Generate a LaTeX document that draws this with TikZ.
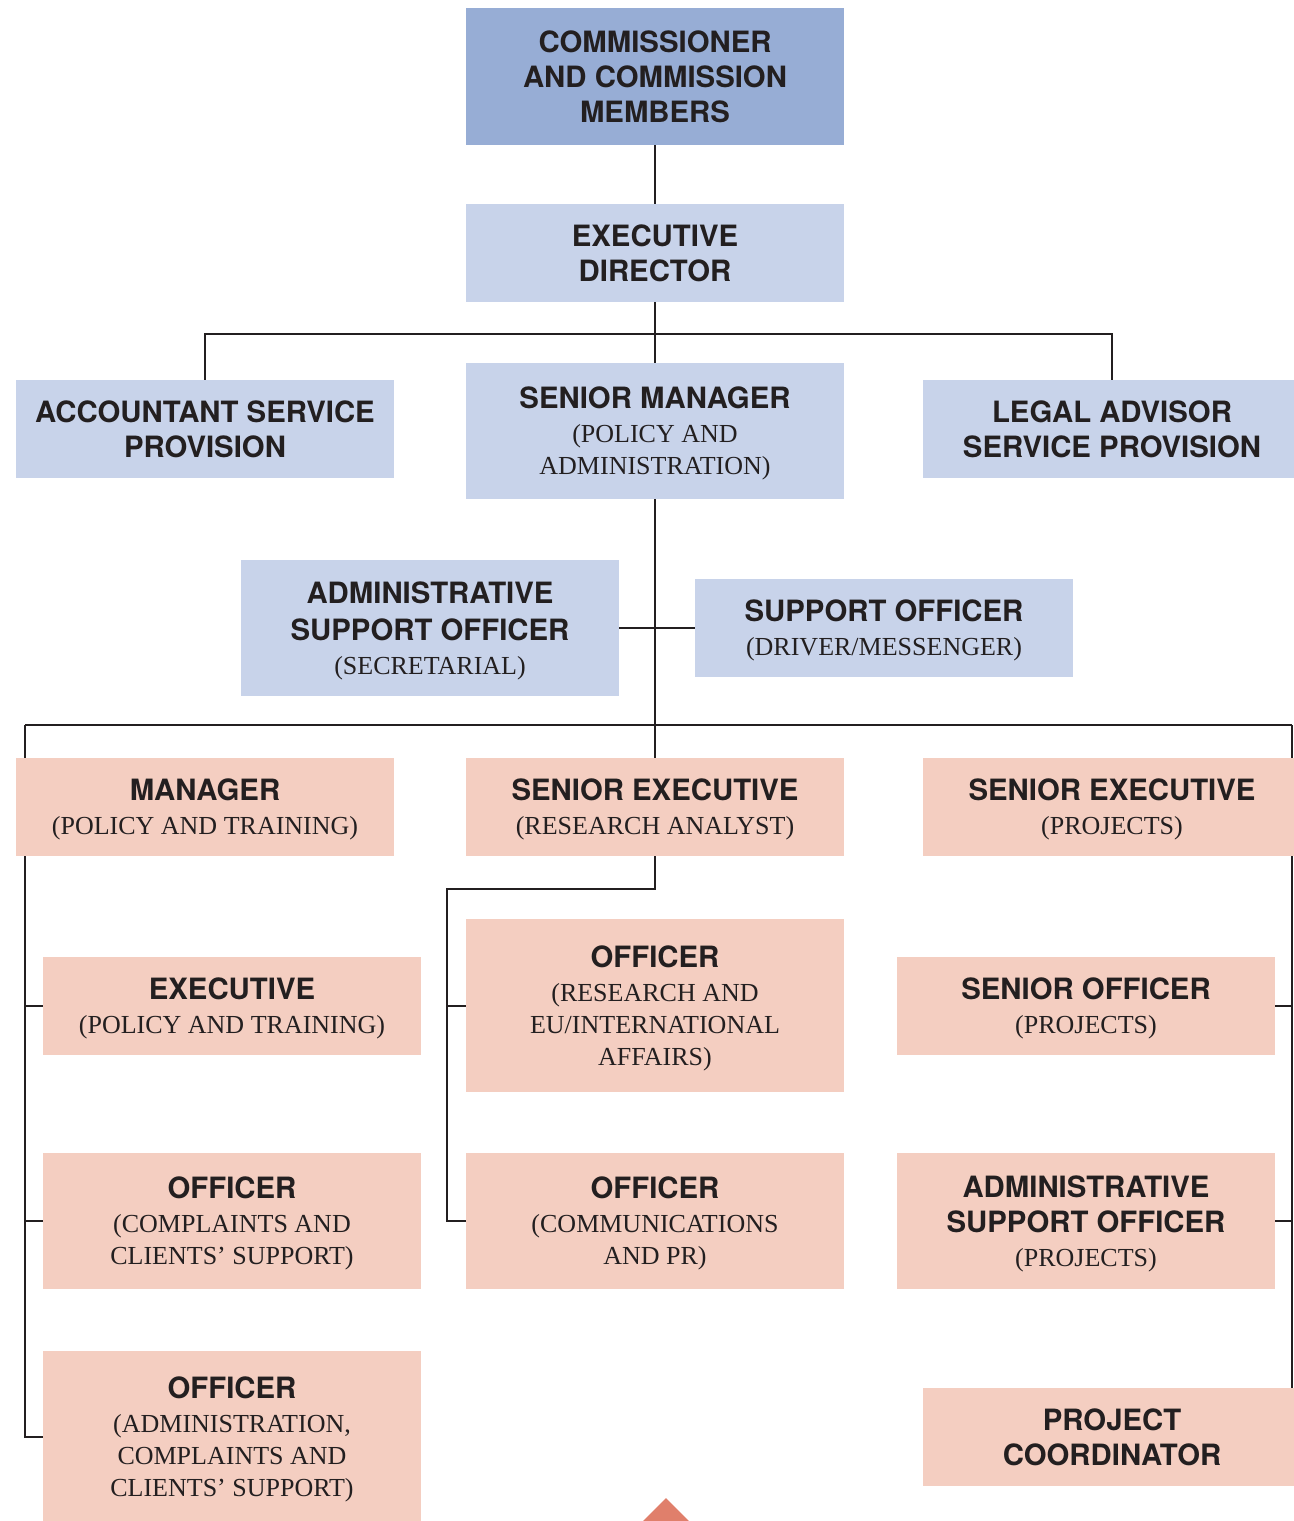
\documentclass[tikz,border=0pt]{standalone}
\usepackage{fontspec}
\setmainfont{Liberation Serif}
\setsansfont{TeX Gyre Heros}
\usetikzlibrary{positioning}
\definecolor{commBlue}{HTML}{97ADD5}
\definecolor{paleBlue}{HTML}{C8D3EA}
\definecolor{palePink}{HTML}{F4CEC1}
\definecolor{lineDark}{HTML}{231F20}
\definecolor{markerRed}{HTML}{E07F6B}
\newcommand{\rolehead}[1]{{\fontsize{16.7}{19}\selectfont\sffamily\bfseries #1}}
\pgfdeclarelayer{back}
\pgfsetlayers{back,main}

\begin{document}
\begin{tikzpicture}[
    x=0.02cm, y=-0.02cm,
    box/.style={inner sep=0pt, minimum width=7.56cm, minimum height=1.96cm,
                align=center, text=lineDark, text depth=0pt,
                font=\fontsize{14.8}{18.3}\selectfont},
    tall/.style={minimum height=2.72cm},
    taller/.style={minimum height=3.46cm},
    topbox/.style={box, fill=commBlue},
    bluebox/.style={box, fill=paleBlue},
    pinkbox/.style={box, fill=palePink},
    link/.style={draw=lineDark, line width=1.15pt}
  ]
    \useasboundingbox (0,0) rectangle (1294,1521);

    % governing levels
    \node[topbox, minimum height=2.74cm] (comm) at (655,76.5) {
      \rolehead{COMMISSIONER}\\[1.5pt] \rolehead{AND COMMISSION}\\[1.5pt] \rolehead{MEMBERS}};
    \node[bluebox] (exec) at (655,253) {\rolehead{EXECUTIVE}\\[1.5pt] \rolehead{DIRECTOR}};
    \node[bluebox] (acct) at (205,429) {\rolehead{ACCOUNTANT SERVICE}\\[1.5pt] \rolehead{PROVISION}};
    \node[bluebox, tall] (senmgr) at (655,431) {
      \rolehead{SENIOR MANAGER}\\[1pt] (POLICY AND\\ ADMINISTRATION)};
    \node[bluebox] (legal) at (1112,429) {\rolehead{LEGAL ADVISOR}\\[1.5pt] \rolehead{SERVICE PROVISION}};
    \node[bluebox, tall] (adminsec) at (430,628) {
      \rolehead{ADMINISTRATIVE}\\[2.5pt] \rolehead{SUPPORT OFFICER}\\[1pt] (SECRETARIAL)};
    \node[bluebox] (driver) at (884,628) {\rolehead{SUPPORT OFFICER}\\[1pt] (DRIVER/MESSENGER)};

    % units
    \node[pinkbox] (manager) at (205,807) {\rolehead{MANAGER}\\[1pt] (POLICY AND TRAINING)};
    \node[pinkbox] (senexres) at (655,807) {\rolehead{SENIOR EXECUTIVE}\\[1pt] (RESEARCH ANALYST)};
    \node[pinkbox] (senexproj) at (1112,807) {\rolehead{SENIOR EXECUTIVE}\\[1pt] (PROJECTS)};

    \node[pinkbox] (execpol) at (232,1006) {\rolehead{EXECUTIVE}\\[1pt] (POLICY AND TRAINING)};
    \node[pinkbox, taller] (offres) at (655,1005.5) {
      \rolehead{OFFICER}\\[1pt] (RESEARCH AND\\ EU/INTERNATIONAL\\ AFFAIRS)};
    \node[pinkbox] (senoff) at (1086,1006) {\rolehead{SENIOR OFFICER}\\[1pt] (PROJECTS)};

    \node[pinkbox, tall] (offcompl) at (232,1221) {
      \rolehead{OFFICER}\\[1pt] (COMPLAINTS AND\\ CLIENTS’ SUPPORT)};
    \node[pinkbox, tall] (offcomm) at (655,1221) {
      \rolehead{OFFICER}\\[1pt] (COMMUNICATIONS\\ AND PR)};
    \node[pinkbox, tall] (adminproj) at (1086,1221) {
      \rolehead{ADMINISTRATIVE}\\[1.5pt] \rolehead{SUPPORT OFFICER}\\[1pt] (PROJECTS)};

    \node[pinkbox, taller] (offadmin) at (232,1437) {
      \rolehead{OFFICER}\\[1pt] (ADMINISTRATION,\\ COMPLAINTS AND\\ CLIENTS’ SUPPORT)};
    \node[pinkbox] (projcoord) at (1112,1437) {\rolehead{PROJECT}\\[1.5pt] \rolehead{COORDINATOR}};

    \fill[markerRed] (643,1521) -- (666,1498) -- (689,1521) -- cycle;

    % connectors behind the boxes
    \coordinate (topbus) at (655,334);
    \coordinate (lt) at (25,725);
    \coordinate (rt) at (1292,725);
    \coordinate (mid) at (447,889);
    \begin{pgfonlayer}{back}
      \draw[link] (comm.south) -- (exec.north);
      \draw[link] (exec.south) -- (senmgr.north);
      \draw[link] (acct.north) |- (topbus) -| (legal.north);
      \draw[link] (senmgr.south) -- (senexres.north);
      \draw[link] (adminsec.east) -- (driver.west);
      \draw[link] (lt) -- (rt);
      \draw[link] (lt) |- (offadmin.west);
      \draw[link] (execpol.west) -- (execpol.west -| lt);
      \draw[link] (offcompl.west) -- (offcompl.west -| lt);
      \draw[link] (rt) -- (rt |- projcoord.north);
      \draw[link] (senoff.east) -- (senoff.east -| rt);
      \draw[link] (adminproj.east) -- (adminproj.east -| rt);
      \draw[link] (senexres.south) |- (mid) |- (offcomm.west);
      \draw[link] (offres.west) -- (offres.west -| mid);
    \end{pgfonlayer}
  \end{tikzpicture}
\end{document}
